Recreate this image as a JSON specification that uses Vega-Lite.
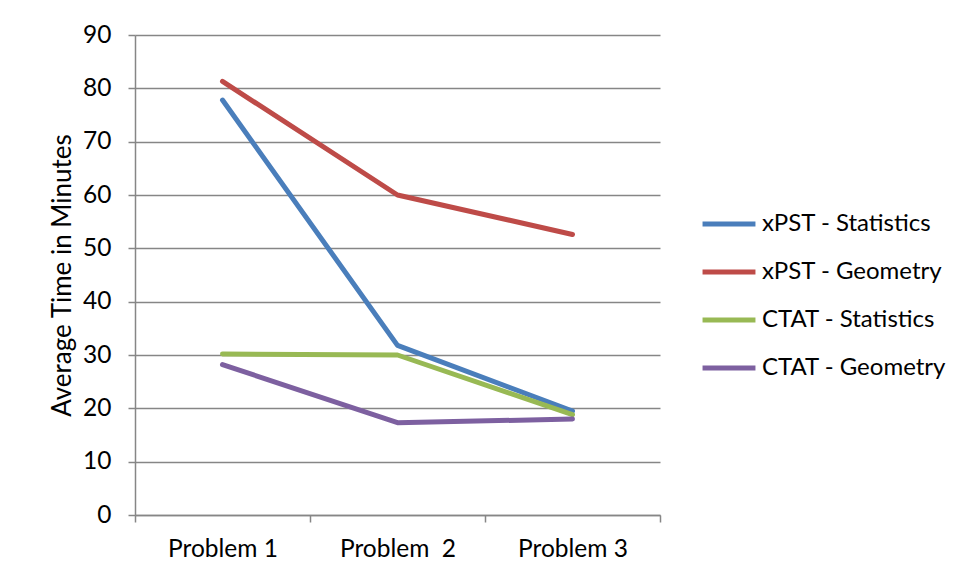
{
  "$schema": "https://vega.github.io/schema/vega-lite/v6.json",
  "autosize": "none",
  "width": 525,
  "height": 480,
  "padding": {"left": 135, "top": 35, "right": 298, "bottom": 64},
  "background": "white",
  "config": {
    "view": {"stroke": null},
    "font": "Lato"
  },
  "data": {
    "values": [
      {"problem": "Problem 1", "series": "xPST - Statistics", "minutes": 77.8},
      {"problem": "Problem\u00a0 2", "series": "xPST - Statistics", "minutes": 31.8},
      {"problem": "Problem 3", "series": "xPST - Statistics", "minutes": 19.5},
      {"problem": "Problem 1", "series": "xPST - Geometry", "minutes": 81.3},
      {"problem": "Problem\u00a0 2", "series": "xPST - Geometry", "minutes": 60.0},
      {"problem": "Problem 3", "series": "xPST - Geometry", "minutes": 52.6},
      {"problem": "Problem 1", "series": "CTAT - Statistics", "minutes": 30.2},
      {"problem": "Problem\u00a0 2", "series": "CTAT - Statistics", "minutes": 30.0},
      {"problem": "Problem 3", "series": "CTAT - Statistics", "minutes": 18.8},
      {"problem": "Problem 1", "series": "CTAT - Geometry", "minutes": 28.2},
      {"problem": "Problem\u00a0 2", "series": "CTAT - Geometry", "minutes": 17.3},
      {"problem": "Problem 3", "series": "CTAT - Geometry", "minutes": 18.0}
    ]
  },
  "mark": {"type": "line", "strokeWidth": 5, "strokeCap": "round", "strokeJoin": "round"},
  "encoding": {
    "x": {
      "field": "problem",
      "type": "nominal",
      "sort": ["Problem 1", "Problem\u00a0 2", "Problem 3"],
      "scale": {"paddingInner": 0, "paddingOuter": 0},
      "axis": {
        "title": null,
        "labelAngle": 0,
        "tickBand": "extent",
        "grid": false,
        "domainColor": "#868686",
        "domainWidth": 1.5,
        "tickColor": "#868686",
        "tickWidth": 1.5,
        "tickSize": 7,
        "labelFont": "Lato",
        "labelFontSize": 24.5,
        "labelColor": "black",
        "labelPadding": 15
      }
    },
    "y": {
      "field": "minutes",
      "type": "quantitative",
      "scale": {"domain": [0, 90], "nice": false, "zero": true},
      "axis": {
        "title": "Average Time in Minutes",
        "values": [0, 10, 20, 30, 40, 50, 60, 70, 80, 90],
        "grid": true,
        "gridColor": "#868686",
        "gridWidth": 1.5,
        "domainColor": "#868686",
        "domainWidth": 1.5,
        "tickColor": "#868686",
        "tickWidth": 1.5,
        "tickSize": 7,
        "labelFont": "Lato",
        "labelFontSize": 24.5,
        "labelColor": "black",
        "labelPadding": 17,
        "titleFont": "Lato",
        "titleFontSize": 26,
        "titleFontWeight": "normal",
        "titleColor": "black",
        "titlePadding": 7
      }
    },
    "color": {
      "field": "series",
      "type": "nominal",
      "sort": ["xPST - Statistics", "xPST - Geometry", "CTAT - Statistics", "CTAT - Geometry"],
      "scale": {
        "domain": ["xPST - Statistics", "xPST - Geometry", "CTAT - Statistics", "CTAT - Geometry"],
        "range": ["#4A7EBB", "#BE4B48", "#98B954", "#7D60A0"]
      },
      "legend": {
        "title": null,
        "orient": "none",
        "legendX": 565,
        "legendY": 160,
        "symbolType": "stroke",
        "symbolSize": 2800,
        "symbolStrokeWidth": 5,
        "labelFont": "Lato",
        "labelFontSize": 24,
        "labelColor": "black",
        "labelLimit": 400,
        "labelOffset": 4,
        "rowPadding": 7,
        "padding": 0
      }
    }
  }
}
